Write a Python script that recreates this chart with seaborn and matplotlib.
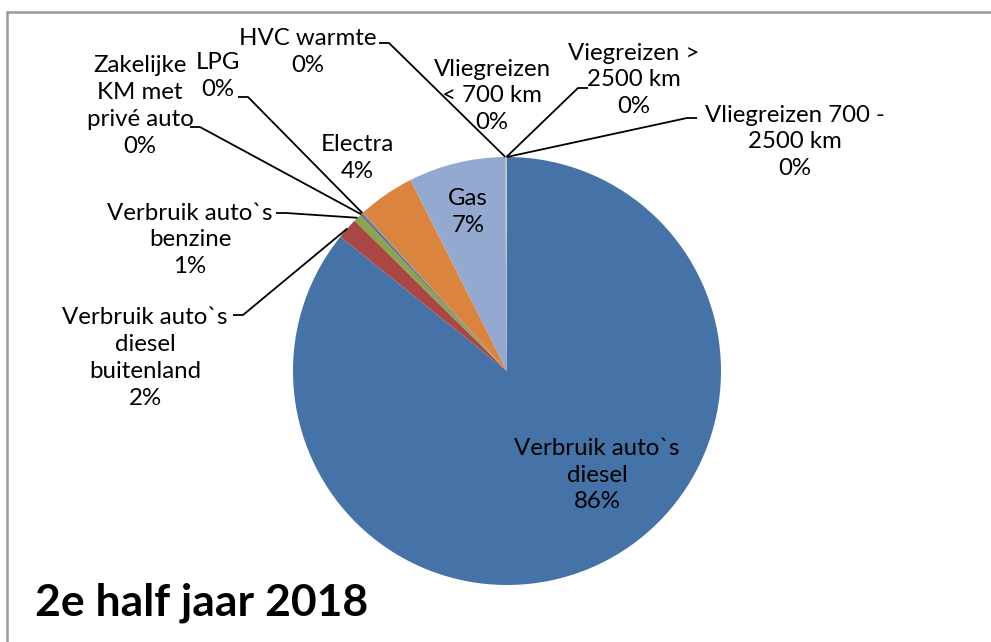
import numpy as np
import matplotlib
matplotlib.use("Agg")
import matplotlib.pyplot as plt
import seaborn as sns
from matplotlib.lines import Line2D

# data (clockwise from 12 o'clock)
categories = ["Verbruik auto`s diesel", "Verbruik auto`s diesel buitenland",
              "Verbruik auto`s benzine", "Zakelijke KM met privé auto", "LPG",
              "Electra", "Gas", "HVC warmte", "Vliegreizen < 700 km",
              "Viegreizen > 2500 km", "Vliegreizen 700 - 2500 km"]
shares = [85.8, 1.6, 0.6, 0.15, 0.1, 4.3, 7.3, 0.05, 0.04, 0.03, 0.03]
# label text as wrapped in the chart
label_text = ["Verbruik auto`s\ndiesel", "Verbruik auto`s\ndiesel\nbuitenland",
              "Verbruik auto`s\nbenzine", "Zakelijke\nKM met\nprivé auto", "LPG",
              "Electra", "Gas", "HVC warmte", "Vliegreizen\n< 700 km",
              "Viegreizen >\n2500 km", "Vliegreizen 700 -\n2500 km"]
title = "2e half jaar 2018"

colors = ["#4572A7", "#AA4643", "#89A54E", "#71588F", "#4198AF", "#DB843D",
          "#93A9CF", "#D19392", "#B9CD96", "#A99BBD", "#92C3D4"]

W, H = 991, 642
# label centres and leader-line starts, in pixels from top-left
label_pos = [(597, 475), (145, 358), (190, 240), (140, 106), (218, 76),
             (357, 158), (468, 212), (308, 52), (492, 96), (634, 80), (795, 142)]
leader_start = [None, (233, 315), (276, 213), (190, 127), (238, 97),
                None, None, (379, 43), None, (588, 88), (697, 118)]
center_px = (507, 371)
radius_px = 214

sns.set_style("white")
plt.rcParams['font.family'] = ['Lato', 'DejaVu Sans']

fig = plt.figure(figsize=(W / 100, H / 100), dpi=100)
ax = fig.add_axes([0, 0, 1, 1])

def flip(p):
    return (p[0], H - p[1])

cx, cy = flip(center_px)
wedges, _ = ax.pie(shares, colors=colors, startangle=90, counterclock=False,
                   center=(cx, cy), radius=radius_px,
                   wedgeprops=dict(linewidth=0))
ax.set_xlim(0, W)
ax.set_ylim(0, H)
ax.set_aspect('equal')
ax.axis('off')

for i, w in enumerate(wedges):
    txt = label_text[i] + "\n" + f"{round(shares[i])}%"
    x, y = flip(label_pos[i])
    ax.text(x, y, txt, ha='center', va='center', multialignment='center',
            fontsize=17.3, color='black', linespacing=1.35)
    if leader_start[i] is not None:
        mid = np.deg2rad((w.theta1 + w.theta2) / 2)
        ex = cx + radius_px * np.cos(mid)
        ey = cy + radius_px * np.sin(mid)
        sx, sy = flip(leader_start[i])
        step = 10 if sx < ex else -10
        ax.plot([sx, sx + step, ex], [sy, sy, ey], color='black', lw=1.3,
                solid_capstyle='butt')

fig.text(35 / W, 1 - 603 / H, title, ha='left', va='center',
         fontsize=32, fontweight='bold', color='black')

# chart frame (only top and left edges are visible in the crop)
fig.add_artist(Line2D([7 / W, 1], [1 - 12 / H, 1 - 12 / H], color='#9A9A9A', lw=1.8))
fig.add_artist(Line2D([7 / W, 7 / W], [0, 1 - 12 / H], color='#9A9A9A', lw=1.8))

fig.savefig("out.png", dpi=100)
